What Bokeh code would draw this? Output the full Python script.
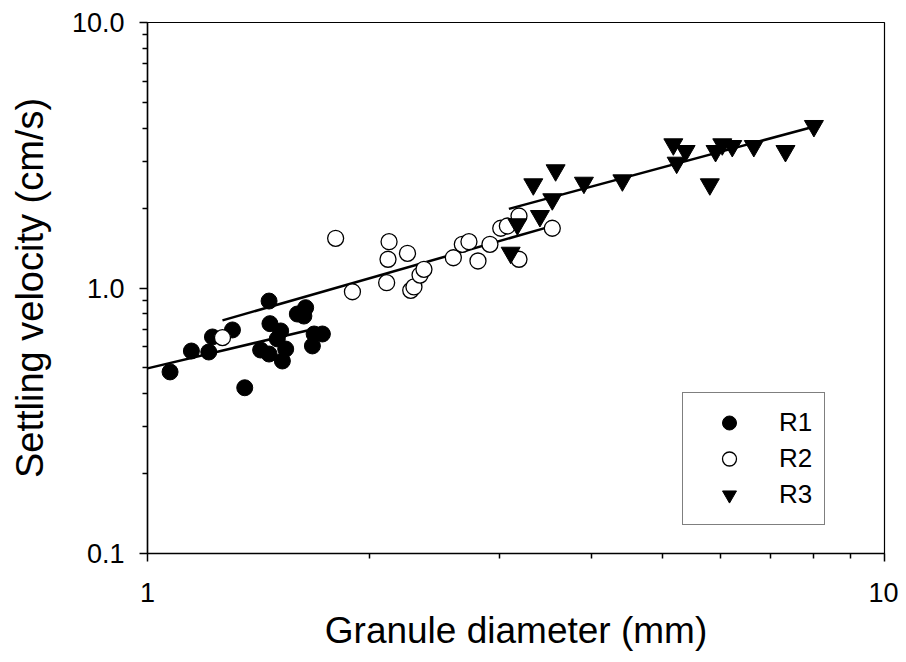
from bokeh.plotting import figure
from bokeh.models import FixedTicker, CustomJSTickFormatter, Legend, LegendItem, Range1d
from bokeh.embed import file_html
from bokeh.resources import INLINE

# ---- data ----
r1_x = [1.073, 1.147, 1.211, 1.225, 1.304, 1.355, 1.462, 1.466, 1.424, 1.462,
        1.516, 1.524, 1.540, 1.597, 1.639, 1.630, 1.683, 1.727, 1.674, 1.500]
r1_y = [0.483, 0.579, 0.574, 0.654, 0.695, 0.421, 0.893, 0.734, 0.584, 0.564,
        0.689, 0.531, 0.589, 0.798, 0.843, 0.784, 0.671, 0.671, 0.605, 0.643]

r2_x = [1.264, 1.800, 1.897, 2.127, 2.120, 2.111, 2.253, 2.276, 2.299, 2.343,
        2.372, 2.600, 2.674, 2.730, 2.808, 2.915, 3.015, 3.078, 3.192, 3.192, 3.542]
r2_y = [0.650, 1.539, 0.968, 1.494, 1.283, 1.047, 1.351, 0.980, 1.009, 1.119,
        1.176, 1.300, 1.461, 1.494, 1.264, 1.461, 1.679, 1.712, 1.867, 1.283, 1.679]

r3_x = [3.110, 3.176, 3.338, 3.408, 3.542, 3.579, 3.910, 4.409, 5.170, 5.372,
        5.224, 5.794, 5.899, 6.024, 6.215, 6.648, 7.339, 8.021]
r3_y = [1.358, 1.738, 2.458, 1.867, 2.159, 2.776, 2.492, 2.544, 3.477, 3.281,
        2.965, 2.458, 3.281, 3.477, 3.426, 3.426, 3.281, 4.076]

fit1_x = [1.0, 1.648]
fit1_y = [0.498, 0.692]
fit2_x = [1.264, 3.469]
fit2_y = [0.755, 1.685]
fit3_x = [3.093, 8.107]
fit3_y = [1.986, 4.087]

x_major = [1, 10]
x_minor = [2, 3, 4, 5, 6, 7, 8, 9]
y_major = [0.1, 1, 10]
y_minor = [0.2, 0.3, 0.4, 0.5, 0.6, 0.7, 0.8, 0.9, 2, 3, 4, 5, 6, 7, 8, 9]

series_labels = ["R1", "R2", "R3"]
x_title = "Granule diameter (mm)"
y_title = "Settling velocity (cm/s)"

FONT = "Liberation Sans"

p = figure(width=898, height=653, x_axis_type="log", y_axis_type="log",
           x_range=Range1d(1, 10), y_range=Range1d(0.1, 10),
           output_backend="svg", toolbar_location=None,
           min_border_left=147, min_border_right=14,
           min_border_top=22, min_border_bottom=60)
p.grid.visible = False
p.outline_line_color = "black"
p.outline_line_width = 1.2
p.background_fill_color = "white"
p.border_fill_color = "white"

for ax, ticks, minors, code in ((p.xaxis, x_major, x_minor, "return tick.toFixed(0)"),
                                (p.yaxis, y_major, y_minor, "return tick.toFixed(1)")):
    ax.ticker = FixedTicker(ticks=ticks, minor_ticks=minors)
    ax.formatter = CustomJSTickFormatter(code=code)
    ax.axis_line_color = "black"
    ax.axis_line_width = 1.5
    ax.major_tick_line_color = "black"
    ax.major_tick_line_width = 1.5
    ax.minor_tick_line_color = "black"
    ax.minor_tick_line_width = 1.5
    ax.major_tick_out = 8
    ax.major_tick_in = 0
    ax.minor_tick_out = 5
    ax.minor_tick_in = 0
    ax.major_label_text_font = FONT
    ax.major_label_text_font_size = "27px"
    ax.major_label_text_color = "black"
    ax.axis_label_text_font = FONT
    ax.axis_label_text_font_style = "normal"
    ax.axis_label_text_color = "black"

p.xaxis.axis_label = x_title
p.yaxis.axis_label = y_title
p.xaxis.axis_label_text_font_size = "37px"
p.yaxis.axis_label_text_font_size = "38px"
p.xaxis.major_label_standoff = 21
p.yaxis.major_label_standoff = 15
p.xaxis.axis_label_standoff = 5
p.yaxis.axis_label_standoff = 18

for fx, fy in ((fit1_x, fit1_y), (fit2_x, fit2_y), (fit3_x, fit3_y)):
    p.line(fx, fy, line_color="black", line_width=2.5)

r1 = p.scatter(r1_x, r1_y, marker="circle", size=16,
               fill_color="black", line_color="black")
r2 = p.scatter(r2_x, r2_y, marker="circle", size=16,
               fill_color="white", line_color="black", line_width=1.3)
r3 = p.scatter(r3_x, r3_y, marker="inverted_triangle", size=19,
               fill_color="black", line_color="black")

legend = Legend(items=[LegendItem(label=series_labels[0], renderers=[r1]),
                       LegendItem(label=series_labels[1], renderers=[r2]),
                       LegendItem(label=series_labels[2], renderers=[r3])],
                location=(535, 28))
legend.label_text_font = FONT
legend.label_text_font_size = "26px"
legend.label_text_color = "black"
legend.glyph_width = 68
legend.glyph_height = 35
legend.label_height = 35
legend.spacing = 1
legend.padding = 12
legend.label_standoff = 16
legend.margin = 0
legend.border_line_color = "black"
legend.border_line_width = 1.2
legend.background_fill_color = "white"
legend.background_fill_alpha = 1.0
p.add_layout(legend)

open("out.html", "w").write(file_html(p, INLINE))
